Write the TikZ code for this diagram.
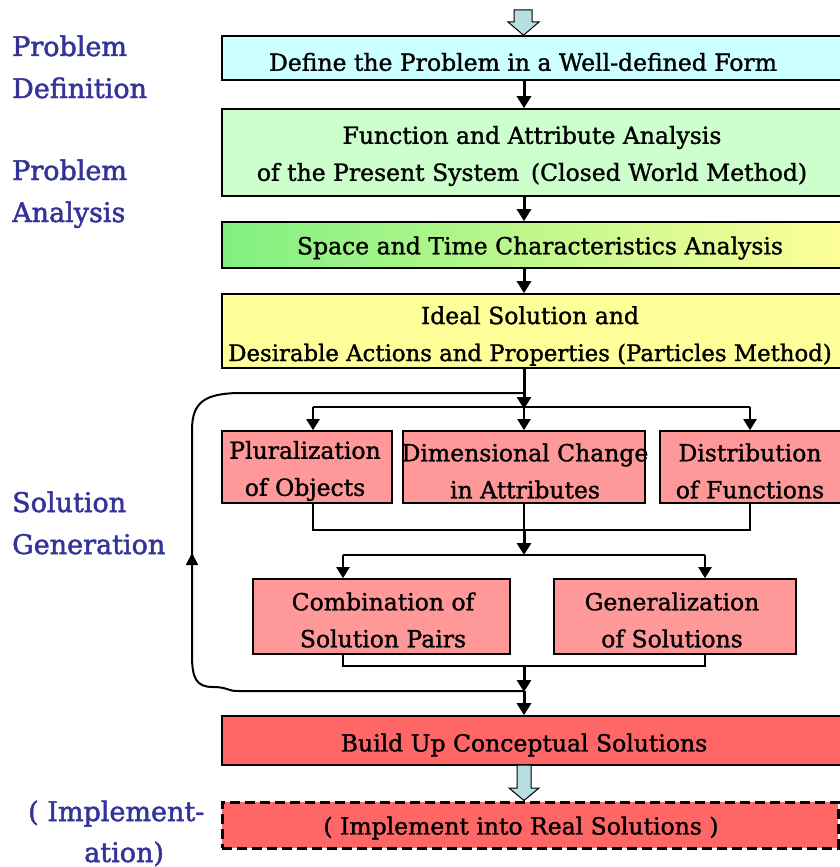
\documentclass[tikz,border=0pt]{standalone}
\usepackage{fontspec}
\setmainfont{DejaVu Serif}
\newfontfamily\boxfont{DejaVu Serif}[FakeBold=1.3]
\newfontfamily\stagefont{DejaVu Serif}[FakeBold=1.8]
\usetikzlibrary{arrows.meta}

\definecolor{defcol}{HTML}{CCFFFF}
\definecolor{funccol}{HTML}{CCFFCC}
\definecolor{spacegreen}{HTML}{80F080}
\definecolor{idealcol}{HTML}{FFFF99}
\definecolor{pinkcol}{HTML}{FF9999}
\definecolor{redcol}{HTML}{FF6666}
\definecolor{stagecol}{HTML}{333399}
\definecolor{blockcol}{HTML}{B8DEE0}

\tikzset{
  box/.style={draw=black, line width=1.6pt, inner sep=0pt},
  boxtext/.style={font=\boxfont\fontsize{23.5}{37}\selectfont, align=center, inner sep=0pt},
  stage/.style={font=\stagefont\fontsize{27}{30}\selectfont, text=stagecol, anchor=base west, inner sep=0pt},
  mainarrow/.style={line width=3pt, -{Triangle[width=14pt,length=12pt]}},
  brancharrow/.style={line width=2pt, -{Triangle[width=13pt,length=11pt]}},
  bracket/.style={line width=1.5pt},
  loopline/.style={line width=2pt},
  blockarrow/.style={draw=black, line width=1pt, fill=blockcol, line join=miter},
}

\begin{document}
\begin{tikzpicture}[x=1pt, y=-1pt]
\useasboundingbox (0,0) rectangle (840,867);
\clip (0,0) rectangle (840,867);

% ---------- stage labels ----------
\node[stage] (lpd1) at (12,56) {Problem};
\node[stage] (lpd2) at (12,98) {Definition};
\node[stage] (lpa1) at (12,180) {Problem};
\node[stage] (lpa2) at (12,222) {Analysis};
\node[stage] (lsg1) at (12,512) {Solution};
\node[stage] (lsg2) at (12,554) {Generation};
\node[stage] (lim1) at (28,821) {( Implement-};
\node[stage] (lim2) at (84,862) {ation)};

% ---------- main column boxes ----------
\node[box, fill=defcol, minimum width=626pt, minimum height=44pt] (def) at (535,58) {};
\node[boxtext] (deft) at (523,62) {Define the Problem in a Well-defined Form};

\node[box, fill=funccol, minimum width=626pt, minimum height=87pt] (func) at (535,152.5) {};
\node[boxtext] (funct) at (532,156) {Function and Attribute Analysis\\of the Present System\enspace(Closed World Method)};

\node[box, left color=spacegreen, right color=idealcol, minimum width=626pt, minimum height=46pt] (space) at (535,245) {};
\node[boxtext] (spacet) at (540,248) {Space and Time Characteristics Analysis};

\node[box, fill=idealcol, minimum width=626pt, minimum height=74pt] (ideal) at (535,331) {};
\node[boxtext] (idealt) at (530,336) {Ideal Solution and\\{\fontsize{22.8}{37}\selectfont Desirable Actions and Properties (Particles Method)}};

% ---------- idea generation boxes ----------
\node[box, fill=pinkcol, minimum width=170pt, minimum height=72pt] (plural) at (307,467) {};
\node[boxtext] (pluralt) at (305,471) {Pluralization\\of Objects};

\node[box, fill=pinkcol, minimum width=242pt, minimum height=72pt] (dim) at (524,467) {};
\node[boxtext] (dimt) at (525,471) {Dimensional Change\\in Attributes};

\node[box, fill=pinkcol, minimum width=188pt, minimum height=72pt] (dist) at (754,467) {};
\node[boxtext] (distt) at (750,471) {Distribution\\of Functions};

\node[box, fill=pinkcol, minimum width=257pt, minimum height=75pt] (comb) at (381.5,616.5) {};
\node[boxtext] (combt) at (383,620) {Combination of\\Solution Pairs};

\node[box, fill=pinkcol, minimum width=242pt, minimum height=75pt] (gen) at (675,616.5) {};
\node[boxtext] (gent) at (672,620) {Generalization\\of Solutions};

% ---------- result boxes ----------
\node[box, fill=redcol, minimum width=626pt, minimum height=49pt] (build) at (535,740.5) {};
\node[boxtext] (buildt) at (524,745) {Build Up Conceptual Solutions};

\node[box, fill=redcol, dashed, dash pattern=on 10pt off 5pt, line width=3pt,
      minimum width=616pt, minimum height=46pt] (impl) at (530,825) {};
\node[boxtext] (implt) at (521,828) {( Implement into Real Solutions )};

% ---------- junction points ----------
\coordinate (mx) at (524,0);
\coordinate (split1) at (524,407);
\coordinate (b1) at (313,407);
\coordinate (b3) at (750,407);
\coordinate (m1) at (313,530);
\coordinate (m2) at (524,530);
\coordinate (m3) at (750,530);
\coordinate (split2) at (524,555);
\coordinate (c1) at (343,555);
\coordinate (c2) at (705,555);
\coordinate (n1) at (343,666);
\coordinate (n2) at (524,666);
\coordinate (n3) at (705,666);
\coordinate (join) at (524,691);
\coordinate (loopin) at (524,393);

% ---------- main flow ----------
\draw[mainarrow] (def.south -| mx) -- (func.north -| mx);
\draw[mainarrow] (func.south -| mx) -- (space.north -| mx);
\draw[mainarrow] (space.south -| mx) -- (ideal.north -| mx);
\draw[mainarrow] (ideal.south -| mx) -- ([yshift=-2pt]split1);

% distribution to the three operators
\draw[bracket] (b1) -- (b3);
\draw[brancharrow] (b1) -- (b1 |- plural.north);
\draw[brancharrow] (split1) -- (dim.north -| mx);
\draw[brancharrow] (b3) -- (b3 |- dist.north);

% collecting the three operators
\draw[bracket] (plural.south -| m1) -- (m1) -- (m3) -- (dist.south -| m3);
\draw[bracket] (dim.south -| m2) -- (m2);
\draw[mainarrow] (m2) -- (split2);

% distribution to the two combiners
\draw[bracket] (c1) -- (c2);
\draw[brancharrow] (c1) -- (c1 |- comb.north);
\draw[brancharrow] (c2) -- (c2 |- gen.north);

% collecting the two combiners
\draw[bracket] (comb.south -| n1) -- (n1) -- (n3) -- (gen.south -| n3);
\draw[mainarrow] (n2) -- ([yshift=-1pt]join);
\draw[mainarrow] (join) -- (build.north -| mx);

% feedback loop on the left
\draw[loopline] (join) -- (237,691)
  .. controls (228,691) and (227,687) .. (213,687)
  .. controls (196,687) and (192,678) .. (192,655)
  -- (192,430)
  .. controls (192,402) and (205,394) .. (237,393)
  -- (loopin);
\draw[loopline, -{Triangle[width=12pt,length=12pt]}] (192,575) -- (192,553);

% ---------- block arrows ----------
\draw[blockarrow] (514,10) -- (532,10) -- (532,22) -- (539,22) -- (def.north -| 523.5,0)
  -- (508,22) -- (514,22) -- cycle;
\draw[blockarrow] (517,765) -- (531,765) -- (531,788) -- (539,788) -- (impl.north -| 524,0)
  -- (509,788) -- (517,788) -- cycle;
\end{tikzpicture}
\end{document}
